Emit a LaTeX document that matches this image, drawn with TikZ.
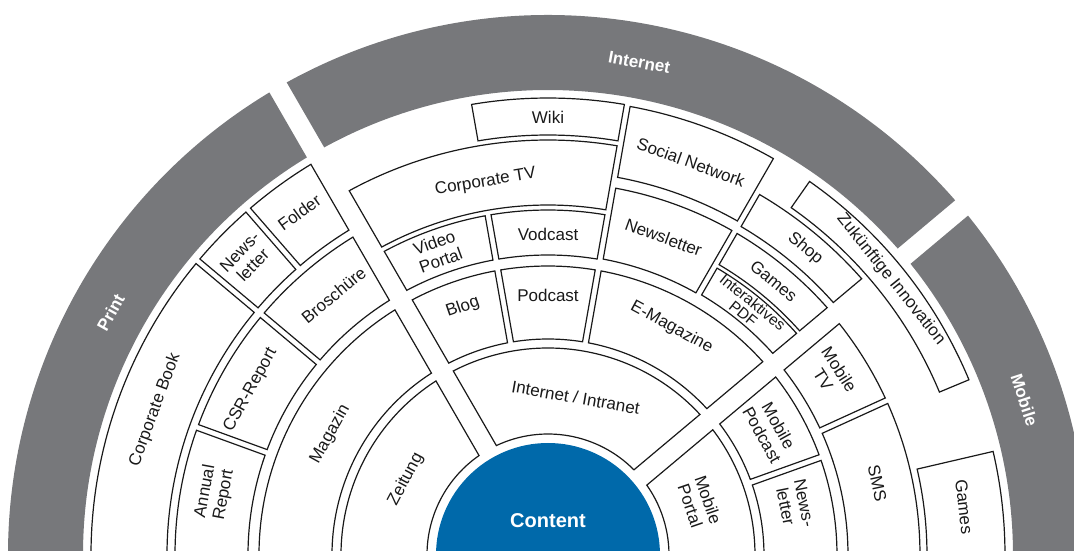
\documentclass[tikz,border=0pt]{standalone}
\usepackage{fontspec}
\setmainfont{Liberation Sans}
\definecolor{bandgray}{RGB}{119,120,123}
\definecolor{contentblue}{RGB}{0,105,170}
\tikzset{
  box/.style={draw=black!90, line width=1.2pt, fill=white, line join=miter},
  band/.style={fill=bandgray, draw=none},
  lbl/.style={font=\fontsize{17}{19}\selectfont, align=center, inner sep=0pt, text=black!90},
  smalllbl/.style={font=\fontsize{15.5}{15}\selectfont, align=center, inner sep=0pt, text=black!90},
  bandlbl/.style={font=\fontsize{17}{19}\selectfont\bfseries, text=white, inner sep=0pt},
}
% annular sector: [style]{start angle}{end angle}{inner r}{outer r}{half gap at start}{half gap at end}
\newcommand{\sect}[7][box]{%
  \pgfmathsetmacro{\aI}{#2+asin(#6/#4)}%
  \pgfmathsetmacro{\bI}{#3-asin(#7/#4)}%
  \pgfmathsetmacro{\aO}{#2+asin(#6/#5)}%
  \pgfmathsetmacro{\bO}{#3-asin(#7/#5)}%
  \path[#1] (\aI:#4pt) arc[start angle=\aI, end angle=\bI, radius=#4pt]
    -- (\bO:#5pt) arc[start angle=\bO, end angle=\aO, radius=#5pt] -- cycle;
}
% label: [style]{name}{angle}{radius}{text}
\newcommand{\lab}[5][lbl]{\node[#1, rotate=#3-90] (#2) at (#3:#4pt) {#5};}
\begin{document}
\begin{tikzpicture}[x=1pt,y=1pt]
\useasboundingbox (-548,4) rectangle (526,555);
\clip (-548,4) rectangle (526,555);
% outer grey bands
\sect[band]{120}{185}{465}{540}{10}{0}
\sect[band]{40}{120}{465}{540}{10}{10}
\sect[band]{-5}{40}{465}{540}{0}{10}
% ring A
\sect{120}{185}{121}{207}{10}{0}
\sect{40}{120}{121}{207}{10}{10}
\sect{-5}{40}{121}{207}{0}{10}
% ring B
\sect{120}{185}{216}{289}{10}{0}
\sect{100}{120}{216}{289}{3}{10}
\sect{80}{100}{216}{289}{3}{3}
\sect{40}{80}{216}{289}{10}{3}
\sect{19.7}{40}{216}{289}{3}{10}
\sect{-5}{19.7}{216}{289}{0}{3}
% ring C left
\sect{160}{185}{300}{373}{3}{0}
\sect{140}{160}{300}{373}{3}{3}
\sect{120}{140}{300}{373}{10}{3}
% ring D left
\sect{140}{185}{381}{457}{3}{0}
\sect{131}{140}{381}{457}{3}{3}
\sect{120}{131}{381}{457}{10}{3}
% top sector
\sect{100}{120}{300}{345}{3}{10}
\sect{80}{100}{300}{345}{3}{3}
\sect{80}{120}{350}{415}{3}{10}
\sect{80}{100}{420}{457}{3}{3}
\sect{60}{80}{301}{373}{3}{3}
\sect{60}{80}{384}{456}{3}{3}
\sect{40}{60}{302}{333}{10}{3}
\sect{40}{60}{337}{373}{10}{3}
\sect{40}{60}{381}{418}{10}{3}
\sect{22.6}{55}{424}{456}{0}{0}
% right sector
\sect{24.5}{40}{300}{372}{3}{10}
\sect{-5}{24.5}{300}{372}{0}{3}
\sect{-5}{13.1}{379}{457}{0}{0}
% centre
\node[circle, fill=contentblue, minimum size=224pt, inner sep=0pt] (core) at (0,0) {};
\node[font=\fontsize{20}{22}\selectfont\bfseries, text=white, inner sep=0pt] (content) at (0,34) {Content};
% labels
\lab{zeitung}{152}{161}{Zeitung}
\lab{magazin}{151}{249}{Magazin}
\lab{annual}{169.5}{339}{Annual\\Report}
\lab{csr}{151}{340}{CSR-Report}
\lab{brosch}{129.5}{337}{Broschüre}
\lab{cbook}{159.7}{419}{Corporate Book}
\lab{newsl1}{135.5}{423}{News-\\letter}
\lab{folder}{126}{423}{Folder}
\lab[bandlbl]{print}{151}{500}{Print}
\lab{inet}{80}{160}{Internet / Intranet}
\lab{blog}{109}{262}{Blog}
\lab{podcast}{90}{260}{Podcast}
\lab{emag}{61.5}{259}{E-Magazine}
\lab{video}{110}{323}{Video\\Portal}
\lab{vodcast}{90}{321}{Vodcast}
\lab{ctv}{99.5}{378}{Corporate TV}
\lab{wiki}{90}{438}{Wiki}
\lab{newsletter}{70}{338}{Newsletter}
\lab{social}{70}{418}{Social Network}
\lab{games1}{50.5}{355}{Games}
\lab[smalllbl]{pdf}{51}{318}{Interaktives\\PDF}
\lab{shop}{50}{400}{Shop}
\lab{zuk}{38.8}{440}{Zukünftige Innovation}
\lab[bandlbl]{internet}{79.5}{501}{Internet}
\lab{mtv}{32.5}{336}{Mobile\\TV}
\lab{mpod}{29.3}{255}{Mobile\\Podcast}
\lab{newsl2}{11.5}{252}{News-\\letter}
\lab{sms}{12.3}{337}{SMS}
\lab{games2}{6.6}{419}{Games}
\lab{mportal}{19}{160}{Mobile\\Portal}
\lab[bandlbl]{mobile}{18}{501}{Mobile}
\end{tikzpicture}
\end{document}
